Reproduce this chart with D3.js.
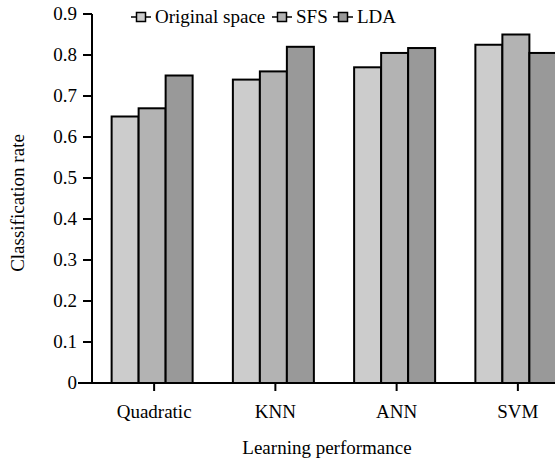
<!DOCTYPE html>
<html>
<head>
<meta charset="utf-8">
<script src="https://cdn.jsdelivr.net/npm/d3@7"></script>
<style>
  body { margin: 0; background: #fff; }
</style>
</head>
<body>
<script>
var categories = ["Quadratic", "KNN", "ANN", "SVM"];
var series = ["Original space", "SFS", "LDA"];
var colors = ["#cccccc", "#b3b3b3", "#999999"];
var original_space = [0.65, 0.74, 0.77, 0.825];
var sfs = [0.67, 0.76, 0.805, 0.85];
var lda = [0.75, 0.82, 0.817, 0.805];
var y_ticks = [0, 0.1, 0.2, 0.3, 0.4, 0.5, 0.6, 0.7, 0.8, 0.9];

var values = [original_space, sfs, lda];

var svg = d3.select("body")
    .append("svg")
    .attr("width", 555)
    .attr("height", 462);

function label(sel) {
    return sel.style("font-family", "'Liberation Serif'")
        .attr("font-size", 19);
}

var x = d3.scaleBand()
    .domain(categories)
    .range([93.5, 578.5]);

var xInner = d3.scaleBand()
    .domain(series)
    .range([0, 81]);

var y = d3.scaleLinear()
    .domain([0, 0.9])
    .range([383, 14]);

// bars
series.forEach(function (s, si) {
    svg.append("g")
        .selectAll("rect")
        .data(categories)
        .enter()
        .append("rect")
        .attr("x", function (c) { return x(c) + x.bandwidth() / 2 - 42.5 + xInner(s); })
        .attr("y", function (c, i) { return y(values[si][i]); })
        .attr("width", xInner.bandwidth())
        .attr("height", function (c, i) { return y(0) - y(values[si][i]); })
        .attr("fill", colors[si])
        .attr("stroke", "#000")
        .attr("stroke-width", 2);
});

// y axis
var yAxis = svg.append("g")
    .attr("transform", "translate(92, 0)");
yAxis.append("line")
    .attr("x1", 0).attr("x2", 0)
    .attr("y1", y(0.9)).attr("y2", y(0))
    .attr("stroke", "#000")
    .attr("stroke-width", 2);
yAxis.selectAll(".tick")
    .data(y_ticks)
    .enter()
    .append("line")
    .attr("x1", -9).attr("x2", 0)
    .attr("y1", function (d) { return y(d); })
    .attr("y2", function (d) { return y(d); })
    .attr("stroke", "#000")
    .attr("stroke-width", 2);
yAxis.selectAll(".lbl")
    .data(y_ticks)
    .enter()
    .append("text")
    .attr("x", -15)
    .attr("y", function (d) { return y(d); })
    .attr("dy", "0.32em")
    .attr("text-anchor", "end")
    .call(label)
    .text(function (d) { return d === 0 ? "0" : d3.format(".1f")(d); });

// x axis
svg.append("line")
    .attr("x1", 78).attr("x2", 555)
    .attr("y1", y(0)).attr("y2", y(0))
    .attr("stroke", "#000")
    .attr("stroke-width", 2);
svg.append("g")
    .selectAll("line")
    .data(categories)
    .enter()
    .append("line")
    .attr("x1", function (c) { return x(c) + x.bandwidth() / 2; })
    .attr("x2", function (c) { return x(c) + x.bandwidth() / 2; })
    .attr("y1", y(0)).attr("y2", y(0) + 8)
    .attr("stroke", "#000")
    .attr("stroke-width", 2);
svg.append("g")
    .selectAll("text")
    .data(categories)
    .enter()
    .append("text")
    .attr("x", function (c) { return x(c) + x.bandwidth() / 2; })
    .attr("y", 418)
    .attr("text-anchor", "middle")
    .call(label)
    .text(function (c) { return c; });

// axis titles
svg.append("text")
    .attr("x", 327)
    .attr("y", 454)
    .attr("text-anchor", "middle")
    .call(label)
    .text("Learning performance");

svg.append("text")
    .attr("transform", "translate(24, 203) rotate(-90)")
    .attr("text-anchor", "middle")
    .call(label)
    .text("Classification rate");

// legend
var legendX = [131, 272, 333];
var legend = svg.append("g");
series.forEach(function (s, si) {
    var g = legend.append("g")
        .attr("transform", "translate(" + legendX[si] + ", 17)");
    g.append("line")
        .attr("x1", 0).attr("x2", 20)
        .attr("y1", 0).attr("y2", 0)
        .attr("stroke", "#000")
        .attr("stroke-width", 1.5);
    g.append("rect")
        .attr("x", 5.5).attr("y", -4.5)
        .attr("width", 9).attr("height", 9)
        .attr("fill", colors[si])
        .attr("stroke", "#000")
        .attr("stroke-width", 1.5);
    g.append("text")
        .attr("x", 24)
        .attr("y", 0)
        .attr("dy", "0.32em")
        .call(label)
        .text(s);
});
</script>
</body>
</html>
